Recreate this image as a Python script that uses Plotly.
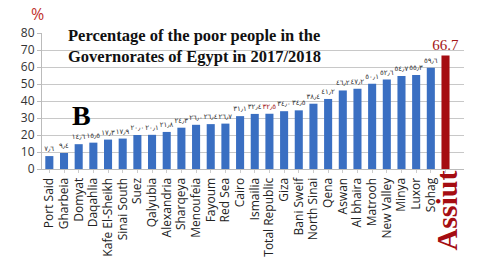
import plotly.graph_objects as go

governorates = ["Port Said", "Gharbeia", "Domyat", "Daqahlia", "Kafe El-Sheikh", "Sinai South",
                "Suez", "Qalyubia", "Alexandria", "Sharqeya", "Menoufeia", "Fayoum", "Red Sea",
                "Cairo", "Ismailia", "Total Republic", "Giza", "Bani Sweif", "North Sinai", "Qena",
                "Aswan", "Al bhaira", "Matrooh", "New Valley", "Minya", "Luxor", "Sohag", "Assiut"]
poverty = [7.6, 9.4, 14.6, 15.5, 17.3, 17.9, 20.0, 20.1, 21.8, 24.3, 26.0, 26.4, 26.7,
           31.1, 32.4, 32.5, 34.0, 34.5, 38.4, 41.2, 46.2, 47.2, 50.1, 52.6, 54.7, 55.3, 59.6, 66.7]
y_ticks = [0, 10, 20, 30, 40, 50, 60, 70, 80]

AR = str.maketrans("0123456789.", "٠١٢٣٤٥٦٧٨٩٫")
labels = []
for g, v in zip(governorates, poverty):
    labels.append(f"{v:.1f}" if g == "Assiut" else f"{v:.1f}".translate(AR))

colors = ["#a50d12" if g == "Assiut" else "#3a6fc2" for g in governorates]
tcolors = ["#a31515" if g in ("Assiut", "Total Republic") else "#333333" for g in governorates]
tsizes = [15 if g == "Assiut" else 7 for g in governorates]
tfams = ["Liberation Serif" if g == "Assiut" else "DejaVu Sans" for g in governorates]

fig = go.Figure(go.Bar(
    x=governorates, y=poverty, text=labels, textposition="outside",
    textfont=dict(color=tcolors, size=tsizes, family=tfams),
    constraintext="none", cliponaxis=False,
    marker=dict(color=colors, line=dict(width=0)),
))

ticktext = ["" if g == "Assiut" else g for g in governorates]

fig.update_layout(
    width=480, height=272, margin=dict(l=42, r=16, t=33, b=103, autoexpand=False),
    paper_bgcolor="white", plot_bgcolor="white", bargap=0.45, showlegend=False,
    font=dict(family="Open Sans", color="#333333"),
    xaxis=dict(tickmode="array", tickvals=governorates, ticktext=ticktext, tickangle=-90,
               tickfont=dict(size=12, family="Open Sans", color="#222222"), automargin=False,
               showline=True, linecolor="#bbbbbb", ticks="outside", ticklen=3, tickcolor="#cccccc"),
    yaxis=dict(range=[0, 80], tickvals=y_ticks, showgrid=True, gridcolor="#c8c8c8",
               tickfont=dict(size=12, family="Open Sans", color="#333333"), automargin=False,
               showline=True, linecolor="#bbbbbb", zeroline=False, ticks="outside",
               ticklen=4, tickcolor="#bbbbbb"),
    annotations=[
        dict(xref="paper", yref="paper", x=0.058, y=1.065, xanchor="left", yanchor="top",
             align="left", showarrow=False,
             text="<b>Percentage of the poor people in the<br>Governorates of Egypt in 2017/2018</b>",
             font=dict(family="Liberation Serif", size=16.5, color="#111111")),
        dict(xref="paper", yref="paper", x=0.066, y=0.39, xanchor="left", yanchor="middle",
             showarrow=False, text="<b>B</b>",
             font=dict(family="Liberation Serif", size=28, color="#000000")),
        dict(xref="paper", yref="paper", x=-0.011, y=1.14, xanchor="center", yanchor="middle",
             showarrow=False, text="%",
             font=dict(family="Open Sans", size=16, color="#c0302b")),
        dict(x="Assiut", xref="x", yref="paper", y=0.0, xanchor="center", yanchor="top",
             textangle=-90, showarrow=False, text="<b>Assiut</b>",
             font=dict(family="Liberation Serif", size=30, color="#a50d12")),
    ],
)

# remove the page's default body margin so the 480x272 figure fills the window
fig.write_html("out.html", config={"displayModeBar": False},
               post_script="document.body.style.margin='0';")
